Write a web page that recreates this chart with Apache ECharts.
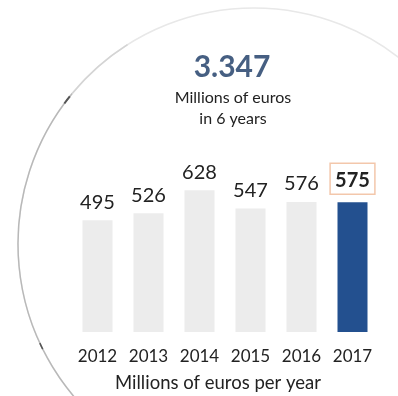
<!DOCTYPE html>
<html>
<head>
<meta charset="utf-8">
<style>
  html, body { margin: 0; padding: 0; background: #fff; }
  #chart { width: 398px; height: 396px; }
</style>
<script src="https://cdn.jsdelivr.net/npm/echarts@6/dist/echarts.min.js"></script>
</head>
<body>
<div id="chart"></div>
<script>
// Yearly amounts, millions of euros
const years = ['2012', '2013', '2014', '2015', '2016', '2017'];
const amounts = [495, 526, 628, 547, 576, 575];
const totalLabel = '3.347';
const subtitleLines = ['Millions of euros', 'in 6 years'];
const axisCaption = 'Millions of euros per year';

const FONT = 'Lato, "Open Sans", sans-serif';
const lastIndex = amounts.length - 1;

const barData = amounts.map((v, i) => {
  if (i !== lastIndex) return { value: v };
  return {
    value: v,
    itemStyle: { color: '#23508f' },
    label: {
      fontWeight: 'bold',
      color: '#222',
      borderColor: '#f3c7ab',
      borderWidth: 1.5,
      padding: [7, 5, 4, 5],
      distance: 8
    }
  };
});

// Ring geometry shared by the background decorations
const RING = { cx: 254, cy: 244, r: 236 };
const ringArc = (a0, a1) => Object.assign({}, RING, { startAngle: a0, endAngle: a1 });

const chart = echarts.init(document.getElementById('chart'), null, { renderer: 'canvas' });

chart.setOption({
  backgroundColor: '#ffffff',
  animation: false,
  grid: { left: 72, right: 20, top: 174, bottom: 64 },
  xAxis: {
    type: 'category',
    data: years,
    axisLine: { show: false },
    axisTick: { show: false },
    axisLabel: { color: '#222', fontSize: 17, fontFamily: FONT, margin: 16, interval: 0 }
  },
  yAxis: {
    type: 'value',
    min: 0,
    max: 700,
    show: false,
    splitLine: { show: false }
  },
  series: [{
    type: 'bar',
    data: barData,
    barWidth: 30,
    itemStyle: { color: '#ececec' },
    label: {
      show: true,
      position: 'top',
      distance: 8,
      color: '#222',
      fontSize: 20,
      fontFamily: FONT
    },
    z: 3
  }],
  graphic: [
    // Large background ring
    {
      type: 'circle',
      z: -10,
      silent: true,
      shape: { cx: RING.cx, cy: RING.cy, r: RING.r },
      style: { fill: 'none', stroke: '#e8e8e8', lineWidth: 1.6 }
    },
    // Darker left side of the ring
    {
      type: 'arc',
      z: -9,
      silent: true,
      shape: ringArc(Math.PI * 0.72, Math.PI * 1.22),
      style: { fill: 'none', stroke: '#b8b8b8', lineWidth: 1.4 }
    },
    {
      type: 'arc',
      z: -9,
      silent: true,
      shape: ringArc(Math.PI * 1.22, Math.PI * 1.32),
      style: { fill: 'none', stroke: '#d4d4d4', lineWidth: 1.5 }
    },
    // Small tick marks on the ring
    {
      type: 'arc',
      z: -8,
      silent: true,
      shape: ringArc(Math.PI * 1.203, Math.PI * 1.215),
      style: { fill: 'none', stroke: '#555', lineWidth: 2 }
    },
    {
      type: 'arc',
      z: -8,
      silent: true,
      shape: ringArc(Math.PI * 0.853, Math.PI * 0.862),
      style: { fill: 'none', stroke: '#555', lineWidth: 1.5 }
    },
    // Fragment of a second ring in the corner
    {
      type: 'arc',
      z: -9,
      silent: true,
      shape: { cx: 120, cy: 520, r: 160, startAngle: Math.PI * 1.08, endAngle: Math.PI * 1.22 },
      style: { fill: 'none', stroke: '#bbbbbb', lineWidth: 1.2 }
    },
    {
      type: 'text',
      style: {
        text: totalLabel,
        fill: '#465f82',
        font: 'bold 30px ' + FONT,
        textAlign: 'center',
        textVerticalAlign: 'middle'
      },
      position: [232, 67]
    },
    {
      type: 'text',
      style: {
        text: subtitleLines[0],
        fill: '#222',
        font: '16px ' + FONT,
        textAlign: 'center',
        textVerticalAlign: 'middle'
      },
      position: [233, 98]
    },
    {
      type: 'text',
      style: {
        text: subtitleLines[1],
        fill: '#222',
        font: '16px ' + FONT,
        textAlign: 'center',
        textVerticalAlign: 'middle'
      },
      position: [233, 119]
    },
    {
      type: 'text',
      style: {
        text: axisCaption,
        fill: '#222',
        font: '18.5px ' + FONT,
        textAlign: 'center',
        textVerticalAlign: 'middle'
      },
      position: [218, 383]
    }
  ]
});
</script>
</body>
</html>
